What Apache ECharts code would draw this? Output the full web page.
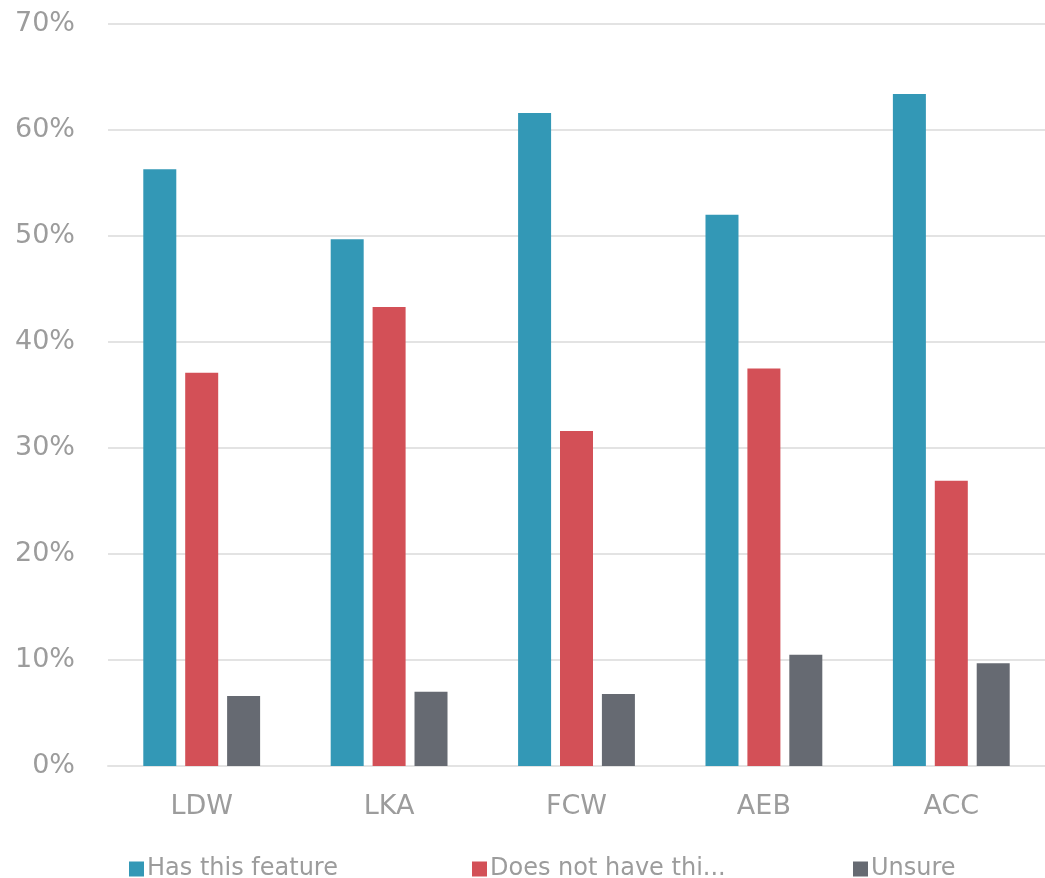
<!DOCTYPE html>
<html>
<head>
<meta charset="utf-8">
<script src="https://cdn.jsdelivr.net/npm/echarts@6/dist/echarts.min.js"></script>
<style>html,body{margin:0;padding:0;background:#fff;}#c{width:1045px;height:878px;}</style>
</head>
<body>
<div id="c"></div>
<script>
const categories = ['LDW', 'LKA', 'FCW', 'AEB', 'ACC'];
const hasFeature = [56.3, 49.7, 61.6, 52.0, 63.4];
const doesNotHave = [37.1, 43.3, 31.6, 37.5, 26.9];
const unsure = [6.6, 7.0, 6.8, 10.5, 9.7];
const seriesNames = ['Has this feature', 'Does not have this feature', 'Unsure'];
const legendLabels = ['Has this feature', 'Does not have thi...', 'Unsure'];
const colors = ['#3398B6', '#D35057', '#666A72'];

const FONT = 'DejaVu Sans';
const chart = echarts.init(document.getElementById('c'));
const values = [hasFeature, doesNotHave, unsure];
const legendLefts = [124, 467, 848];
chart.setOption({
  animation: false,
  color: colors,
  grid: { left: 108, right: -3, top: 24, bottom: 112, containLabel: false },
  xAxis: {
    type: 'category',
    data: categories,
    axisLine: { lineStyle: { color: '#e3e3e3', width: 2 } },
    axisTick: { show: false },
    axisLabel: { color: '#9c9c9c', fontFamily: FONT, fontSize: 27, margin: 27 }
  },
  yAxis: {
    type: 'value',
    min: 0, max: 70, interval: 10,
    axisLine: { show: false },
    axisTick: { show: false },
    splitLine: { lineStyle: { color: '#e3e3e3', width: 2 } },
    axisLabel: { color: '#9c9c9c', fontFamily: FONT, fontSize: 27, margin: 33, formatter: '{value}%' }
  },
  legend: seriesNames.map((n, i) => ({
    data: [n],
    left: legendLefts[i],
    top: 852,
    itemWidth: 15, itemHeight: 15, itemGap: 4,
    icon: 'rect',
    formatter: () => legendLabels[i],
    textStyle: { color: '#9c9c9c', fontFamily: FONT, fontSize: 24, padding: [0, 0, 0, -2] }
  })),
  series: seriesNames.map((n, i) => ({
    name: n,
    type: 'bar',
    data: values[i],
    barWidth: 33,
    barGap: '27%',
    itemStyle: { color: colors[i] }
  }))
});
</script>
</body>
</html>
